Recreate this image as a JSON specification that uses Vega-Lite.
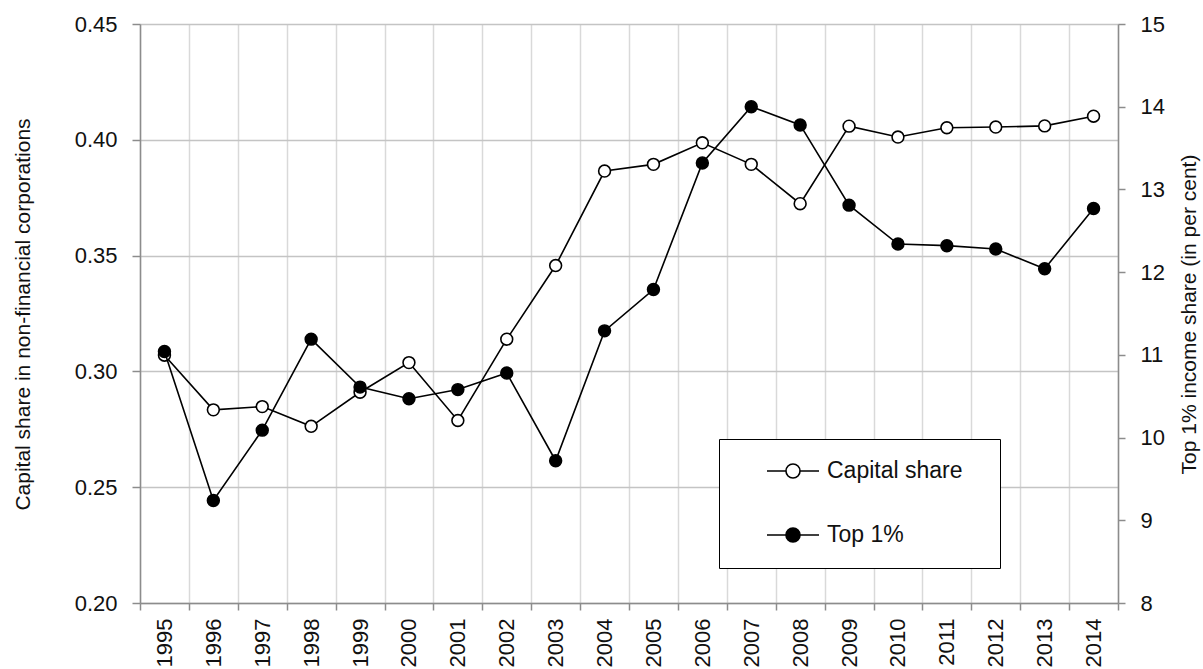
{
  "$schema": "https://vega.github.io/schema/vega-lite/v6.json",
  "autosize": {"type": "none"},
  "width": 978,
  "height": 579,
  "padding": {"left": 140, "top": 24, "right": 85, "bottom": 66},
  "background": "white",
  "config": {
    "view": {"stroke": null},
    "font": "Liberation Sans",
    "axis": {
      "labelFont": "Liberation Sans",
      "titleFont": "Liberation Sans",
      "labelFontSize": 22,
      "titleFontSize": 21,
      "titleFontWeight": "normal",
      "labelColor": "#111",
      "titleColor": "#111",
      "domainColor": "#8c8c8c",
      "domainWidth": 1.5,
      "tickColor": "#8c8c8c",
      "tickWidth": 1.5
    }
  },
  "data": {
    "values": [
      {"year": "1995", "capital": 0.307, "top1": 11.04},
      {"year": "1996", "capital": 0.2834, "top1": 9.24},
      {"year": "1997", "capital": 0.2848, "top1": 10.09},
      {"year": "1998", "capital": 0.2763, "top1": 11.19},
      {"year": "1999", "capital": 0.291, "top1": 10.61},
      {"year": "2000", "capital": 0.3038, "top1": 10.47},
      {"year": "2001", "capital": 0.2788, "top1": 10.58},
      {"year": "2002", "capital": 0.3139, "top1": 10.78},
      {"year": "2003", "capital": 0.3457, "top1": 9.72},
      {"year": "2004", "capital": 0.3865, "top1": 11.29},
      {"year": "2005", "capital": 0.3894, "top1": 11.79},
      {"year": "2006", "capital": 0.3987, "top1": 13.32},
      {"year": "2007", "capital": 0.3894, "top1": 14.0},
      {"year": "2008", "capital": 0.3724, "top1": 13.78},
      {"year": "2009", "capital": 0.4059, "top1": 12.81},
      {"year": "2010", "capital": 0.4012, "top1": 12.34},
      {"year": "2011", "capital": 0.4052, "top1": 12.32},
      {"year": "2012", "capital": 0.4055, "top1": 12.28},
      {"year": "2013", "capital": 0.406, "top1": 12.04},
      {"year": "2014", "capital": 0.4102, "top1": 12.77}
    ]
  },
  "encoding": {
    "x": {
      "field": "year",
      "type": "ordinal",
      "scale": {"type": "band", "paddingInner": 0, "paddingOuter": 0},
      "axis": {
        "title": null,
        "labelAngle": -90,
        "labelAlign": "right",
        "labelBaseline": "middle",
        "labelFontSize": 22,
        "tickBand": "extent",
        "tickSize": 7,
        "labelPadding": 8,
        "grid": true,
        "gridColor": "#d9d9d9",
        "gridWidth": 1.5
      }
    }
  },
  "layer": [
    {
      "encoding": {
        "y": {
          "field": "capital",
          "type": "quantitative",
          "scale": {"domain": [0.2, 0.45], "nice": false, "zero": false},
          "axis": {
            "orient": "left",
            "title": "Capital share in non-financial corporations",
            "values": [0.2, 0.25, 0.3, 0.35, 0.4, 0.45],
            "format": ".2f",
            "tickSize": 8,
            "labelPadding": 15,
            "grid": true,
            "gridColor": "#c4c4c4",
            "gridWidth": 1.5,
            "titleX": -117,
            "titleY": 290,
            "titleAngle": -90,
            "titleAlign": "center",
            "titleBaseline": "middle"
          }
        }
      },
      "layer": [
        {"mark": {"type": "line", "color": "black", "strokeWidth": 1.6}},
        {
          "mark": {"type": "point", "shape": "circle", "filled": true, "size": 140, "stroke": "black", "strokeWidth": 1.6, "opacity": 1},
          "encoding": {
            "fill": {
              "datum": "Capital share",
              "scale": {"domain": ["Capital share", "Top 1%"], "range": ["white", "black"]},
              "legend": {
                "title": " ",
                "titleOrient": "bottom",
                "titleFontSize": 8,
                "titlePadding": 8,
                "orient": "none",
                "legendX": 579,
                "legendY": 415,
                "padding": 5,
                "rowPadding": 25,
                "strokeColor": "black",
                "fillColor": "white",
                "symbolType": "M-1,0L-0.27,0M0.27,0L1,0M-0.27,0A0.27,0.27,0,1,0,0.27,0A0.27,0.27,0,1,0,-0.27,0Z",
                "symbolSize": 2704,
                "symbolStrokeColor": "black",
                "symbolStrokeWidth": 1.6,
                "symbolOffset": 42,
                "labelOffset": 7,
                "labelLimit": 400,
                "labelFont": "Liberation Sans",
                "labelFontSize": 23,
                "labelColor": "#111",
                "labelExpr": "datum.label + '\u00a0\u00a0\u00a0\u00a0\u00a0\u200b'",
                "encode": {"legend": {"update": {"strokeWidth": {"value": 1.5}}}}
              }
            }
          }
        }
      ]
    },
    {
      "encoding": {
        "y": {
          "field": "top1",
          "type": "quantitative",
          "scale": {"domain": [8, 15], "nice": false, "zero": false},
          "axis": {
            "orient": "right",
            "title": "Top 1% income share (in per cent)",
            "values": [8, 9, 10, 11, 12, 13, 14, 15],
            "tickSize": 7,
            "labelPadding": 15,
            "grid": false,
            "titleX": 71,
            "titleY": 290,
            "titleAngle": -90,
            "titleAlign": "center",
            "titleBaseline": "middle"
          }
        }
      },
      "layer": [
        {"mark": {"type": "line", "color": "black", "strokeWidth": 1.6}},
        {
          "mark": {"type": "point", "shape": "circle", "filled": true, "size": 140, "stroke": "black", "strokeWidth": 1.6, "opacity": 1},
          "encoding": {
            "fill": {"datum": "Top 1%"}
          }
        }
      ]
    }
  ],
  "resolve": {"scale": {"y": "independent"}, "axis": {"y": "independent"}}
}
